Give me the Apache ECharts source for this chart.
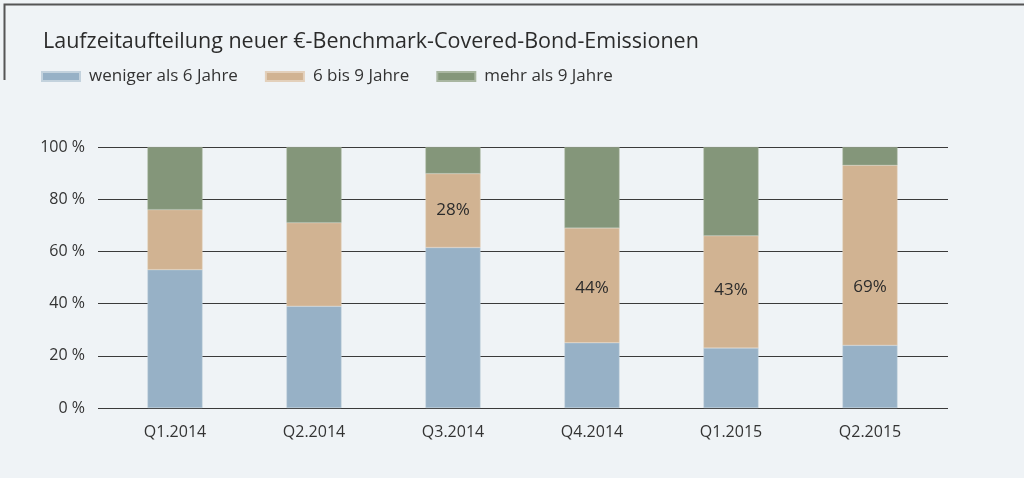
<!DOCTYPE html>
<html>
<head>
<meta charset="utf-8">
<script src="https://cdn.jsdelivr.net/npm/echarts@6/dist/echarts.min.js"></script>
<style>
  html, body { margin: 0; padding: 0; background: #eff3f6; }
  #chart { width: 1024px; height: 478px; }
</style>
</head>
<body>
<div id="chart"></div>
<script>
  // Daten
  var quarters = ['Q1.2014', 'Q2.2014', 'Q3.2014', 'Q4.2014', 'Q1.2015', 'Q2.2015']
  var under6 = [53, 39, 61.5, 25, 23, 24]
  var from6to9 = [23, 32, 28.3, 44, 43, 69]
  var over9 = [24, 29, 10.2, 31, 34, 7]
  var showLabel = [false, false, true, true, true, true]
  var yTicks = [0, 20, 40, 60, 80, 100]

  // Label-Verschiebung (px) je Balken
  var labelShift = [0, 0, 0, 3, -2, 32]

  var font = '"Open Sans", "Noto Sans", sans-serif'
  var myChart = echarts.init(document.getElementById('chart'))

  let option = {
    backgroundColor: '#eff3f6',
    animation: false,
    textStyle: { fontFamily: font },
    title: {
      text: 'Laufzeitaufteilung neuer €-Benchmark-Covered-Bond-Emissionen',
      left: 38,
      top: 26,
      textStyle: { fontSize: 21.5, fontWeight: 'normal', color: '#2b2b2b', fontFamily: font }
    },
    legend: {
      left: 36,
      top: 63,
      itemWidth: 38,
      itemHeight: 9,
      itemGap: 27,
      icon: 'rect',
      textStyle: { fontSize: 17, color: '#333', fontFamily: font, padding: [0, 0, 0, 4] },
      data: ['weniger als 6 Jahre', '6 bis 9 Jahre', 'mehr als 9 Jahre']
    },
    graphic: [{
      type: 'polyline',
      shape: { points: [[4.5, 80], [4.5, 4.5], [1024, 4.5]] },
      style: { stroke: '#555', lineWidth: 2, fill: null }
    }],
    grid: [
      { left: 98, right: 76, top: 147, bottom: 70 },
      { left: 105.5, right: 84.5, top: 147, bottom: 70 }
    ],
    xAxis: [
      {
        type: 'category', gridIndex: 0, data: quarters,
        axisLine: { show: false }, axisTick: { show: false }, axisLabel: { show: false }
      },
      {
        type: 'category', gridIndex: 1, data: quarters,
        axisLine: { show: false }, axisTick: { show: false },
        axisLabel: { fontSize: 16, color: '#333', margin: 16, fontFamily: font }
      }
    ],
    yAxis: [
      {
        type: 'value', gridIndex: 0, min: yTicks[0], max: yTicks[yTicks.length - 1], interval: 20,
        axisLine: { show: false }, axisTick: { show: false },
        axisLabel: { fontSize: 16, color: '#333', margin: 13, fontFamily: font, formatter: '{value} %' },
        splitLine: { lineStyle: { color: '#3a3a3a', width: 1.2 } }
      },
      {
        type: 'value', gridIndex: 1, min: 0, max: 100, show: false,
        splitLine: { show: false }
      }
    ],
    series: [
      {
        name: 'weniger als 6 Jahre', type: 'bar', stack: 'a', xAxisIndex: 1, yAxisIndex: 1,
        barWidth: 55, data: under6,
        itemStyle: { color: '#97b1c6', borderColor: '#c3d2dd', borderWidth: 0.5 }
      },
      {
        name: '6 bis 9 Jahre', type: 'bar', stack: 'a', xAxisIndex: 1, yAxisIndex: 1,
        barWidth: 55,
        data: from6to9.map(function (v, i) {
          return { value: v, label: { show: showLabel[i], offset: [0, labelShift[i]] } }
        }),
        itemStyle: { color: '#d1b392', borderColor: '#e3d0bb', borderWidth: 0.5 },
        label: {
          position: 'inside', fontSize: 17, color: '#2b2b2b', fontFamily: font,
          formatter: function (p) { return Math.round(p.value) + '%' }
        }
      },
      {
        name: 'mehr als 9 Jahre', type: 'bar', stack: 'a', xAxisIndex: 1, yAxisIndex: 1,
        barWidth: 55, data: over9,
        itemStyle: { color: '#84967a', borderColor: '#a9b6a1', borderWidth: 0.5 }
      }
    ]
  }
  myChart.setOption(option)
</script>
</body>
</html>
